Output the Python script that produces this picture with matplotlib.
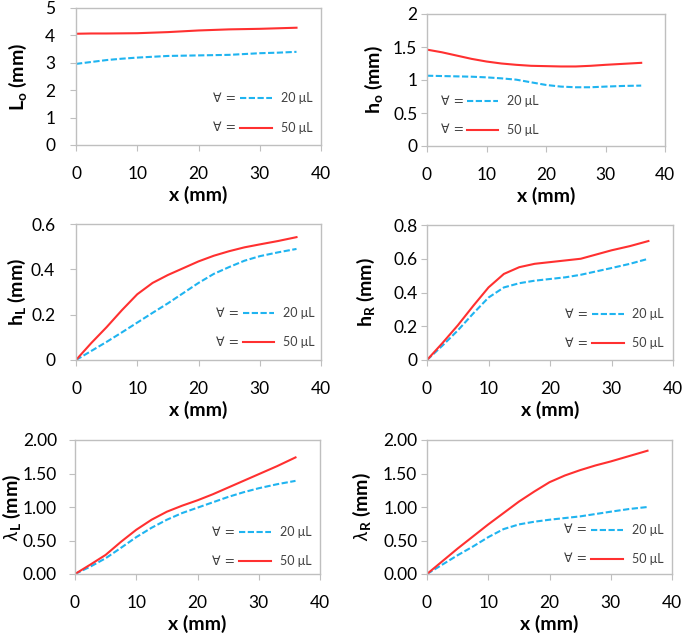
import numpy as np
import matplotlib
matplotlib.use('Agg')
import matplotlib.pyplot as plt

# ==========================================
# Data
# ==========================================
x_mm = [0, 2.5, 5, 7.5, 10, 12.5, 15, 17.5, 20, 22.5, 25, 27.5, 30, 33, 36]

Lo_20 = [2.96, 3.03, 3.10, 3.15, 3.19, 3.22, 3.25, 3.26, 3.27, 3.28, 3.29, 3.32, 3.35, 3.37, 3.40]
Lo_50 = [4.06, 4.07, 4.07, 4.075, 4.08, 4.10, 4.12, 4.15, 4.18, 4.20, 4.22, 4.23, 4.24, 4.26, 4.28]

ho_20 = [1.065, 1.06, 1.055, 1.05, 1.04, 1.025, 1.005, 0.965, 0.925, 0.90, 0.89, 0.89, 0.90, 0.91, 0.915]
ho_50 = [1.46, 1.42, 1.37, 1.32, 1.28, 1.25, 1.23, 1.215, 1.21, 1.205, 1.205, 1.215, 1.23, 1.245, 1.26]

hL_20 = [0, 0.04, 0.08, 0.122, 0.165, 0.208, 0.25, 0.295, 0.34, 0.38, 0.41, 0.438, 0.458, 0.475, 0.49]
hL_50 = [0, 0.075, 0.145, 0.22, 0.29, 0.34, 0.375, 0.405, 0.435, 0.46, 0.48, 0.497, 0.51, 0.525, 0.542]

hR_20 = [0, 0.085, 0.175, 0.275, 0.37, 0.43, 0.455, 0.47, 0.48, 0.49, 0.505, 0.525, 0.545, 0.57, 0.60]
hR_50 = [0, 0.10, 0.205, 0.32, 0.43, 0.51, 0.55, 0.57, 0.58, 0.59, 0.60, 0.625, 0.65, 0.675, 0.705]

lamL_20 = [0, 0.11, 0.235, 0.39, 0.55, 0.69, 0.81, 0.91, 0.99, 1.07, 1.15, 1.22, 1.28, 1.34, 1.39]
lamL_50 = [0, 0.14, 0.285, 0.48, 0.66, 0.81, 0.93, 1.02, 1.10, 1.19, 1.29, 1.39, 1.49, 1.61, 1.74]

lamR_20 = [0, 0.14, 0.28, 0.41, 0.55, 0.67, 0.74, 0.78, 0.81, 0.835, 0.86, 0.895, 0.93, 0.97, 1.00]
lamR_50 = [0, 0.19, 0.38, 0.56, 0.74, 0.91, 1.08, 1.23, 1.37, 1.47, 1.55, 1.62, 1.68, 1.76, 1.84]

ylabels = [r'$\mathbf{L_o}$ (mm)', r'$\mathbf{h_o}$ (mm)',
           r'$\mathbf{h_L}$ (mm)', r'$\mathbf{h_R}$ (mm)',
           r'$\lambda_\mathbf{L}$ (mm)', r'$\lambda_\mathbf{R}$ (mm)']

yticks = [[0, 1, 2, 3, 4, 5],
          [0, 0.5, 1, 1.5, 2],
          [0, 0.2, 0.4, 0.6],
          [0, 0.2, 0.4, 0.6, 0.8],
          [0, 0.5, 1.0, 1.5, 2.0],
          [0, 0.5, 1.0, 1.5, 2.0]]
ytick_labels = [['0', '1', '2', '3', '4', '5'],
                ['0', '0.5', '1', '1.5', '2'],
                ['0', '0.2', '0.4', '0.6'],
                ['0', '0.2', '0.4', '0.6', '0.8'],
                ['0.00', '0.50', '1.00', '1.50', '2.00'],
                ['0.00', '0.50', '1.00', '1.50', '2.00']]
xticks = [0, 10, 20, 30, 40]

series_20 = [Lo_20, ho_20, hL_20, hR_20, lamL_20, lamR_20]
series_50 = [Lo_50, ho_50, hL_50, hR_50, lamL_50, lamR_50]
legend_labels = ['20 \u03bcL', '50 \u03bcL']

# ==========================================
# Style
# ==========================================
plt.rcParams.update({
    'font.family': ['Lato', 'DejaVu Sans'],
    'mathtext.fontset': 'custom',
    'mathtext.rm': 'Lato',
    'mathtext.it': 'Lato:italic',
    'mathtext.bf': 'Lato:bold',
    'font.size': 12,
})

blue = '#1FB4F0'
red = '#FF3030'
dash = (0, (3, 1.2))
spine_gray = '#BFBFBF'

W, H = 685, 639
fig = plt.figure(figsize=(W / 100, H / 100), dpi=100)

# axes boxes in pixels: left, right, top, bottom
boxes = [(76, 321, 8, 145), (427, 665, 14, 146),
         (76, 321, 224, 360), (427, 673, 225, 360),
         (75, 320, 440, 574), (427, 672, 440, 574)]
ylabel_x = [18, 374, 17, 366, 12, 362]
ytick_pad = [11, 3, 11, 3, 9, 3]

# legend placement (axes fraction): x of "∀ =", y of first row
legend_pos = [(0.56, 0.34), (0.06, 0.34), (0.57, 0.345),
              (0.56, 0.34), (0.56, 0.31), (0.56, 0.33)]

for i, (l, r, t, b) in enumerate(boxes):
    ax = fig.add_axes([l / W, 1 - b / H, (r - l) / W, (b - t) / H])
    ax.plot(x_mm, series_20[i], color=blue, ls=dash, lw=1.5)
    ax.plot(x_mm, series_50[i], color=red, ls='-', lw=1.5)

    ax.set_xlim(0, 40)
    ax.set_ylim(yticks[i][0], yticks[i][-1])
    ax.set_xticks(xticks)
    ax.set_yticks(yticks[i])
    ax.set_yticklabels(ytick_labels[i])
    ax.tick_params(direction='out', length=4, color=spine_gray, labelsize=12.5)
    ax.tick_params(axis='x', pad=11)
    ax.tick_params(axis='y', pad=ytick_pad[i])
    for s in ax.spines.values():
        s.set_color(spine_gray)
        s.set_linewidth(1.0)

    ax.set_xlabel('x (mm)', fontweight='bold', fontsize=14, labelpad=3)
    fig.text(ylabel_x[i] / W, 1 - (t + b) / 2 / H, ylabels[i],
             rotation=90, ha='center', va='center', fontsize=14, fontweight='bold')

    # legend: "∀ =  ----  20 μL"
    lx, ly = legend_pos[i]
    for k, (col, ls) in enumerate([(blue, dash), (red, '-')]):
        yy = ly - k * 0.215
        ax.text(lx, yy, '\u2200 =', transform=ax.transAxes, fontsize=9,
                color='#404040', va='center', ha='left',
                family=['DejaVu Sans'])
        ax.plot([lx + 0.11, lx + 0.24], [yy, yy], transform=ax.transAxes,
                color=col, ls=ls, lw=1.5)
        ax.text(lx + 0.275, yy, legend_labels[k], transform=ax.transAxes,
                fontsize=9, color='#404040', va='center', ha='left')

fig.savefig('out.png', dpi=100)
